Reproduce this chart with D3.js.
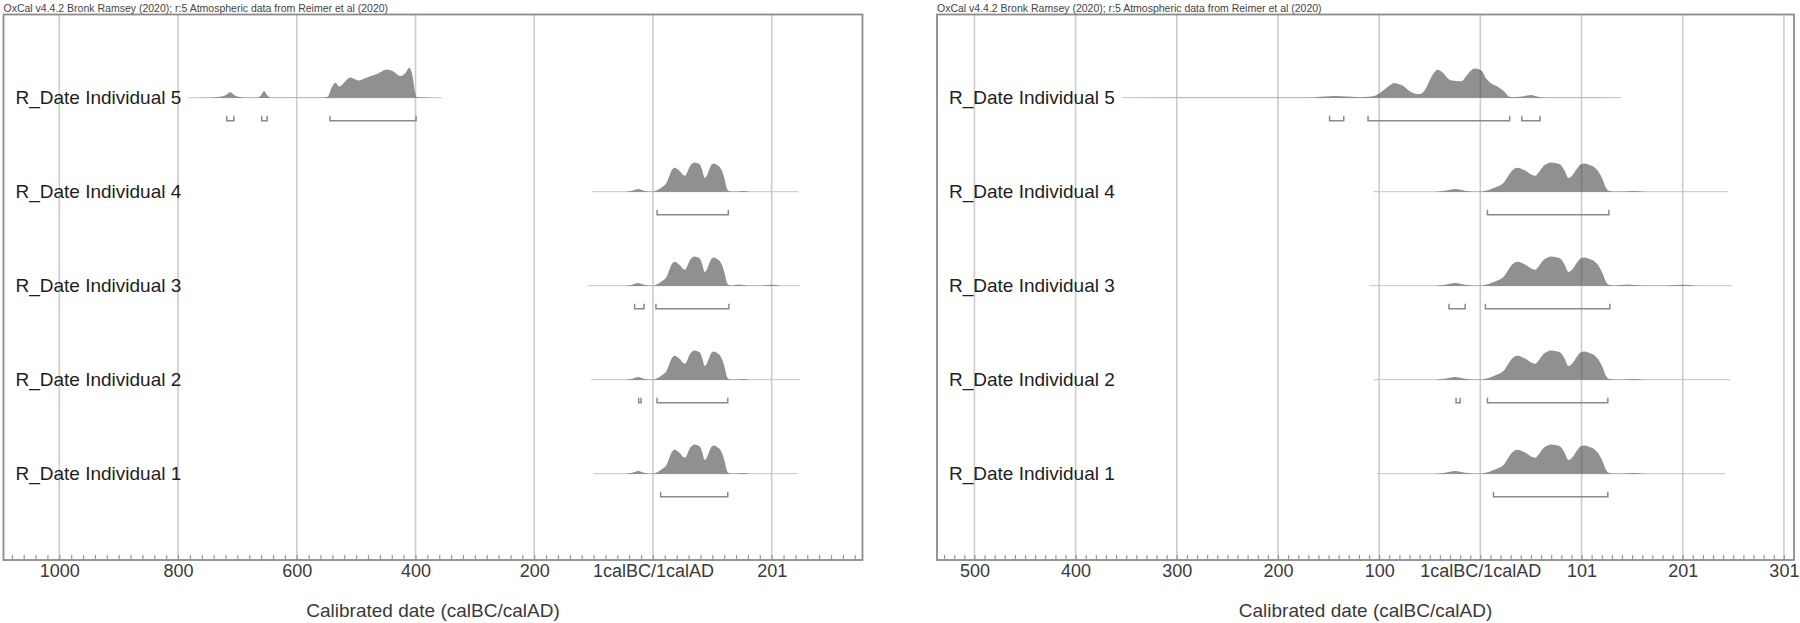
<!DOCTYPE html>
<html>
<head>
<meta charset="utf-8">
<script src="https://cdn.jsdelivr.net/npm/d3@7"></script>
<style>
  body { margin: 0; background: #fff; }
  text { font-family: "Liberation Sans", Arial, Helvetica, sans-serif; }
</style>
</head>
<body>
<div id="chart"></div>
<script>
// rows, top to bottom
var rowNames = ["R_Date Individual 5", "R_Date Individual 4", "R_Date Individual 3", "R_Date Individual 2", "R_Date Individual 1"];

// calendar years: negative = calBC, 0 = 1calBC/1calAD boundary
var leftTicks = [-1000, -800, -600, -400, -200, 0, 200];
var rightTicks = [-500, -400, -300, -200, -100, 0, 100, 200, 300];

// relative probability (peak ~100) against calendar year
var densityIndiv5Left = [[-783,0],[-745,1],[-730,3],[-720,8],[-712,18],[-706,10],[-698,3],[-685,1],[-668,1],[-661,6],[-655,22],[-650,8],[-644,1],[-600,1],[-556,1],[-548,3],[-541,35],[-535,50],[-528,37],[-519,53],[-510,67],[-496,57],[-482,67],[-465,79],[-448,94],[-437,87],[-426,72],[-418,80],[-410,100],[-405,73],[-401,20],[-398,2],[-380,1],[-356,0]];
var densityIndiv5Right = [[-354,0],[-250,0.5],[-170,1],[-158,3],[-150,5],[-142,6],[-132,4],[-122,2],[-110,3],[-103,8],[-96,24],[-90,40],[-85,49],[-80,45],[-76,39],[-70,22],[-66,15],[-60,12],[-54,30],[-50,58],[-46,82],[-42,93],[-37,83],[-32,64],[-28,57],[-19,55],[-12,80],[-6,97],[1,91],[6,63],[12,45],[16,39],[24,19],[29,3],[35,2],[43,5],[50,9],[57,3],[65,1],[90,0.5],[139,0]];
var densityIndiv1to4 = [[-45,0],[-35,3],[-25,9],[-15,3],[-7,1],[0,1],[6,4],[12,11],[18,19],[23,30],[28,55],[32,72],[36,80],[41,76],[46,67],[50,57],[54,53],[58,66],[62,84],[66,93],[70,97],[75,95],[79,91],[83,72],[87,46],[91,55],[95,75],[99,91],[103,94],[108,89],[113,81],[117,66],[121,40],[124,14],[127,3],[132,1],[140,1],[150,2],[160,1],[170,0]];
var densityIndiv3 = [[-45,0],[-35,3],[-25,9],[-15,3],[-7,1],[0,1],[6,4],[12,11],[18,19],[23,30],[28,55],[32,72],[36,80],[41,76],[46,67],[50,57],[54,53],[58,66],[62,84],[66,93],[70,97],[75,95],[79,91],[83,72],[87,46],[91,55],[95,75],[99,91],[103,94],[108,89],[113,81],[117,66],[121,40],[124,14],[127,3],[132,1],[145,4],[160,1],[185,1],[200,3],[215,0]];

// extent of each row's thin line
var spanLeft = [[-783,-356],[-103,245],[-110,248],[-104,248],[-100,244]];
var spanRight = [[-354,139],[-106,245],[-110,249],[-105,247],[-102,242]];

// 95.4% ranges (brackets)
var rangesIndiv5Left = [[-718,-706],[-659,-650],[-544,-399]];
var rangesIndiv5Right = [[-149,-135],[-111,29],[41,59]];
var rangesIndiv4 = [[7,127]];
var rangesIndiv3 = [[-31,-15],[5,128]];
var rangesIndiv2 = [[-24,-20],[7,126]];
var rangesIndiv1 = [[13,126]];

var header = "OxCal v4.4.2 Bronk Ramsey (2020); r:5 Atmospheric data from Reimer et al (2020)";
var axisTitle = "Calibrated date (calBC/calAD)";

var W = 1800, H = 623;
var frameTop = 14.5, frameBottom = 560;

var panels = [
  { x0: 3.5, x1: 862.5, domain: [-1094, 353], ticks: leftTicks, minorStep: 20,
    densities: [densityIndiv5Left, densityIndiv1to4, densityIndiv3, densityIndiv1to4, densityIndiv1to4],
    spans: spanLeft,
    ranges: [rangesIndiv5Left, rangesIndiv4, rangesIndiv3, rangesIndiv2, rangesIndiv1] },
  { x0: 937, x1: 1794, domain: [-537, 310], ticks: rightTicks, minorStep: 10,
    densities: [densityIndiv5Right, densityIndiv1to4, densityIndiv3, densityIndiv1to4, densityIndiv1to4],
    spans: spanRight,
    ranges: [rangesIndiv5Right, rangesIndiv4, rangesIndiv3, rangesIndiv2, rangesIndiv1] }
];

var svg = d3.select("#chart").append("svg")
  .attr("width", W)
  .attr("height", H);

var y = d3.scalePoint()
  .domain(rowNames)
  .range([97.7, 473.7]);

var h = d3.scaleLinear()
  .domain([0, 100])
  .range([0, 30]);

function yearLabel(t) {
  if (t === 0) return "1calBC/1calAD";
  return t < 0 ? String(-t) : String(t + 1);
}

panels.forEach(function(p) {
  var x = d3.scaleLinear().domain(p.domain).range([p.x0, p.x1]);
  var g = svg.append("g");

  // grid
  g.selectAll(".grid").data(p.ticks).enter().append("line")
    .attr("x1", function(d) { return x(d); })
    .attr("x2", function(d) { return x(d); })
    .attr("y1", frameTop)
    .attr("y2", frameBottom)
    .attr("stroke", "#cccccc")
    .attr("stroke-width", 1.6);

  // minor ticks
  var minor = d3.range(Math.ceil(p.domain[0] / p.minorStep) * p.minorStep, p.domain[1], p.minorStep);
  var minorAxis = d3.axisBottom(x).tickValues(minor).tickSize(-5).tickFormat("");
  var gm = g.append("g").attr("transform", "translate(0," + frameBottom + ")").call(minorAxis);
  gm.select(".domain").remove();
  gm.selectAll(".tick line").attr("stroke", "#9a9a9a").attr("stroke-width", 1.2);

  // labels
  var labelAxis = d3.axisBottom(x).tickValues(p.ticks).tickSize(0).tickPadding(4).tickFormat(yearLabel);
  var gl = g.append("g").attr("transform", "translate(0," + frameBottom + ")").call(labelAxis);
  gl.select(".domain").remove();
  gl.attr("font-family", null).attr("font-size", null);
  gl.selectAll(".tick text")
    .style("font-size", "18px")
    .style("fill", "#3a3a3a");

  var area = d3.area()
    .x(function(d) { return x(d[0]); })
    .y1(function(d) { return -h(d[1]); })
    .y0(0)
    .curve(d3.curveMonotoneX);

  rowNames.forEach(function(name, i) {
    var row = g.append("g").attr("transform", "translate(0," + y(name) + ")");

    row.append("line")
      .attr("x1", x(p.spans[i][0]))
      .attr("x2", x(p.spans[i][1]))
      .attr("y1", 0)
      .attr("y2", 0)
      .attr("stroke", "#c4c4c4")
      .attr("stroke-width", 1);

    row.append("path")
      .datum(p.densities[i])
      .attr("d", area)
      .attr("fill", "#404040")
      .attr("fill-opacity", 0.58);

    row.selectAll(".range").data(p.ranges[i]).enter().append("path")
      .attr("d", function(d) {
        var a = x(d[0]), b = x(d[1]);
        return "M" + a + ",18V23H" + b + "V18";
      })
      .attr("fill", "none")
      .attr("stroke", "#8a8a8a")
      .attr("stroke-width", 1.5);

    row.append("text")
      .attr("x", p.x0 + 12)
      .attr("y", 0)
      .attr("dy", "0.35em")
      .style("font-size", "19px")
      .style("fill", "#1e1e1e")
      .text(name);
  });

  // frame
  g.append("rect")
    .attr("x", p.x0)
    .attr("y", frameTop)
    .attr("width", p.x1 - p.x0)
    .attr("height", frameBottom - frameTop)
    .attr("fill", "none")
    .attr("stroke", "#8c8c8c")
    .attr("stroke-width", 1.8);

  g.append("text")
    .attr("x", p.x0)
    .attr("y", frameTop - 3)
    .style("font-size", "10.5px")
    .style("fill", "#444")
    .text(header);

  g.append("text")
    .attr("x", (p.x0 + p.x1) / 2)
    .attr("y", 617)
    .attr("text-anchor", "middle")
    .style("font-size", "19px")
    .style("fill", "#3a3a3a")
    .text(axisTitle);
});
</script>
</body>
</html>
